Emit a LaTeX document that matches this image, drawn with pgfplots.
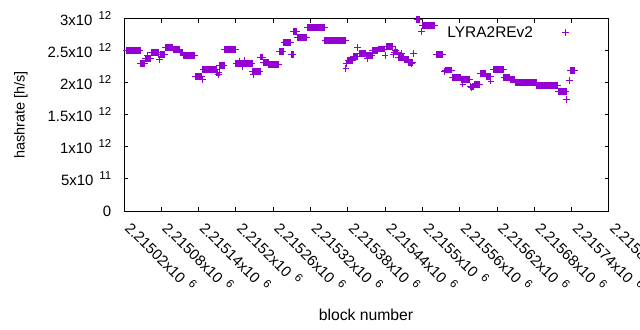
\documentclass[border=0pt]{standalone}
\usepackage{fontspec}
\setmainfont{Liberation Sans}
\usepackage{pgfplots}
\pgfplotsset{compat=1.18}
\definecolor{gpviolet}{HTML}{9400D3}
% tick label with gnuplot-style exponent
\newcommand{\tl}[2]{#1x10\hspace{6bp}\raisebox{6bp}{\fontsize{11.5}{12}\selectfont #2}}
\begin{document}
\begin{tikzpicture}
\path[use as bounding box] (0,0) rectangle (640bp,330bp);
\begin{axis}[
  at={(124bp,119bp)}, anchor=south west,
  scale only axis, width=485bp, height=192bp,
  xmin=20, xmax=800, ymin=0, ymax=3e12,
  scaled x ticks=false, scaled y ticks=false,
  xtick={20,80,...,800},
  xticklabels={\tl{2.21502}{6},\tl{2.21508}{6},\tl{2.21514}{6},\tl{2.2152}{6},\tl{2.21526}{6},\tl{2.21532}{6},\tl{2.21538}{6},\tl{2.21544}{6},\tl{2.2155}{6},\tl{2.21556}{6},\tl{2.21562}{6},\tl{2.21568}{6},\tl{2.21574}{6},\tl{2.2158}{6}},
  ytick={0,5e11,1e12,1.5e12,2e12,2.5e12,3e12},
  yticklabels={0,\tl{5}{11},\tl{1}{12},\tl{1.5}{12},\tl{2}{12},\tl{2.5}{12},\tl{3}{12}},
  tick align=inside,
  major tick length=4.3bp,
  axis line style={line width=1bp, black},
  every tick/.style={black, line width=1bp},
  tick label style={font=\fontsize{15}{17}\selectfont, inner sep=0pt},
  yticklabel shift=12.5bp,
  xticklabel style={rotate=-45, anchor=base west},
  xticklabel shift=18bp,
  xlabel={block number}, ylabel={hashrate [h/s]},
  every axis x label/.style={at={(axis description cs:0.499,-0.5417)}, anchor=center, font=\fontsize{15.8}{17}\selectfont},
  every axis y label/.style={at={(axis description cs:-0.2125,0.5)}, rotate=90, anchor=center, font=\fontsize{14.5}{16}\selectfont},
  legend plot pos=right,
  legend cell align=right,
  legend style={at={(axis description cs:0.918,0.9297)}, anchor=east, draw=none, fill=none, inner sep=0pt, font=\fontsize{15.5}{17}\selectfont},
]
% x = block number - 2215000
\addplot[only marks, mark=+, mark size=3.3bp, gpviolet, line width=1bp,
  legend image code/.code={\path (0bp,0bp) (33bp,0bp); \draw[##1] plot coordinates {(30bp,0bp)};}]
table {
x y
24 2.511e12
25 2.511e12
26 2.511e12
27 2.511e12
28 2.511e12
29 2.511e12
30 2.511e12
31 2.511e12
32 2.511e12
33 2.511e12
34 2.511e12
35 2.511e12
36 2.511e12
37 2.511e12
38 2.511e12
39 2.511e12
40 2.511e12
41 2.511e12
42 2.511e12
43 2.511e12
44 2.511e12
45 2.511e12
46 2.511e12
47 2.305e12
48 2.305e12
49 2.305e12
50 2.305e12
51 2.305e12
52 2.305e12
53 2.305e12
54 2.380e12
55 2.380e12
56 2.380e12
57 2.380e12
58 2.430e12
59 2.380e12
60 2.380e12
61 2.380e12
62 2.380e12
63 2.380e12
64 2.480e12
65 2.480e12
66 2.480e12
67 2.480e12
68 2.480e12
69 2.480e12
70 2.480e12
71 2.480e12
72 2.480e12
73 2.480e12
74 2.480e12
75 2.480e12
76 2.448e12
77 2.370e12
78 2.448e12
79 2.448e12
80 2.448e12
81 2.448e12
82 2.448e12
83 2.448e12
84 2.448e12
85 2.448e12
86 2.558e12
87 2.558e12
88 2.558e12
89 2.558e12
90 2.558e12
91 2.558e12
92 2.558e12
93 2.558e12
94 2.558e12
95 2.558e12
96 2.558e12
97 2.558e12
98 2.558e12
99 2.523e12
100 2.523e12
101 2.523e12
102 2.523e12
103 2.523e12
104 2.523e12
105 2.523e12
106 2.523e12
107 2.523e12
108 2.523e12
109 2.523e12
110 2.523e12
111 2.469e12
112 2.469e12
113 2.469e12
114 2.469e12
115 2.433e12
116 2.433e12
117 2.433e12
118 2.433e12
119 2.433e12
120 2.433e12
121 2.433e12
122 2.433e12
123 2.433e12
124 2.433e12
125 2.433e12
126 2.433e12
127 2.433e12
128 2.433e12
129 2.433e12
130 2.433e12
131 2.433e12
132 2.433e12
133 2.433e12
134 2.433e12
135 2.098e12
136 2.098e12
137 2.098e12
138 2.098e12
139 2.098e12
140 2.098e12
141 2.098e12
142 2.098e12
143 2.098e12
144 2.098e12
145 2.098e12
146 2.047e12
147 2.214e12
148 2.214e12
149 2.214e12
150 2.214e12
151 2.214e12
152 2.214e12
153 2.214e12
154 2.214e12
155 2.214e12
156 2.214e12
157 2.214e12
158 2.214e12
159 2.214e12
160 2.214e12
161 2.214e12
162 2.214e12
163 2.214e12
164 2.214e12
165 2.214e12
166 2.214e12
167 2.214e12
168 2.214e12
169 2.161e12
170 2.161e12
171 2.161e12
172 2.125e12
173 2.161e12
174 2.277e12
175 2.277e12
176 2.277e12
177 2.277e12
178 2.277e12
179 2.277e12
180 2.277e12
181 2.277e12
182 2.527e12
183 2.527e12
184 2.527e12
185 2.527e12
186 2.527e12
187 2.527e12
188 2.527e12
189 2.527e12
190 2.527e12
191 2.527e12
192 2.527e12
193 2.527e12
194 2.527e12
195 2.527e12
196 2.527e12
197 2.527e12
198 2.527e12
199 2.527e12
200 2.308e12
201 2.308e12
202 2.308e12
203 2.308e12
204 2.308e12
205 2.308e12
206 2.344e12
207 2.308e12
208 2.308e12
209 2.308e12
210 2.250e12
211 2.305e12
212 2.305e12
213 2.355e12
214 2.305e12
215 2.305e12
216 2.305e12
217 2.305e12
218 2.305e12
219 2.305e12
220 2.305e12
221 2.305e12
222 2.305e12
223 2.305e12
224 2.305e12
225 2.305e12
226 2.305e12
227 2.177e12
228 2.133e12
229 2.177e12
230 2.177e12
231 2.177e12
232 2.177e12
233 2.177e12
234 2.177e12
235 2.177e12
236 2.177e12
237 2.177e12
238 2.177e12
239 2.177e12
240 2.406e12
241 2.406e12
242 2.406e12
243 2.406e12
244 2.320e12
245 2.320e12
246 2.320e12
247 2.320e12
248 2.320e12
249 2.320e12
250 2.320e12
251 2.320e12
252 2.320e12
253 2.292e12
254 2.292e12
255 2.292e12
256 2.292e12
257 2.292e12
258 2.292e12
259 2.292e12
260 2.292e12
261 2.292e12
262 2.292e12
263 2.292e12
264 2.292e12
265 2.292e12
266 2.292e12
267 2.292e12
268 2.292e12
269 2.292e12
270 2.495e12
271 2.495e12
272 2.495e12
273 2.495e12
274 2.495e12
275 2.495e12
276 2.495e12
277 2.630e12
278 2.630e12
279 2.630e12
280 2.630e12
281 2.630e12
282 2.630e12
283 2.630e12
284 2.630e12
285 2.630e12
286 2.630e12
287 2.630e12
288 2.630e12
289 2.445e12
290 2.445e12
291 2.445e12
292 2.445e12
293 2.808e12
294 2.808e12
295 2.808e12
296 2.808e12
297 2.808e12
298 2.808e12
299 2.714e12
300 2.714e12
301 2.714e12
302 2.714e12
303 2.714e12
304 2.714e12
305 2.714e12
306 2.714e12
307 2.714e12
308 2.714e12
309 2.714e12
310 2.714e12
311 2.714e12
312 2.714e12
313 2.714e12
314 2.714e12
315 2.870e12
316 2.870e12
317 2.870e12
318 2.870e12
319 2.870e12
320 2.870e12
321 2.870e12
322 2.870e12
323 2.870e12
324 2.870e12
325 2.870e12
326 2.870e12
327 2.870e12
328 2.870e12
329 2.870e12
330 2.870e12
331 2.870e12
332 2.870e12
333 2.870e12
334 2.870e12
335 2.870e12
336 2.870e12
337 2.870e12
338 2.870e12
339 2.870e12
340 2.870e12
341 2.870e12
342 2.870e12
343 2.667e12
344 2.667e12
345 2.667e12
346 2.667e12
347 2.667e12
348 2.667e12
349 2.667e12
350 2.667e12
351 2.667e12
352 2.667e12
353 2.667e12
354 2.667e12
355 2.667e12
356 2.667e12
357 2.667e12
358 2.667e12
359 2.667e12
360 2.667e12
361 2.667e12
362 2.667e12
363 2.667e12
364 2.667e12
365 2.667e12
366 2.667e12
367 2.667e12
368 2.667e12
369 2.667e12
370 2.667e12
371 2.667e12
372 2.667e12
373 2.667e12
374 2.667e12
375 2.667e12
376 2.667e12
377 2.230e12
378 2.297e12
380 2.355e12
381 2.355e12
382 2.355e12
383 2.355e12
384 2.355e12
385 2.355e12
386 2.355e12
387 2.355e12
388 2.355e12
389 2.411e12
390 2.411e12
391 2.411e12
392 2.411e12
393 2.411e12
394 2.411e12
395 2.411e12
396 2.558e12
398 2.464e12
399 2.464e12
400 2.464e12
401 2.464e12
402 2.464e12
403 2.464e12
404 2.464e12
405 2.464e12
406 2.464e12
407 2.464e12
408 2.464e12
409 2.464e12
410 2.430e12
411 2.375e12
412 2.430e12
413 2.430e12
414 2.430e12
415 2.430e12
416 2.430e12
417 2.430e12
418 2.430e12
419 2.430e12
420 2.511e12
421 2.511e12
422 2.511e12
423 2.511e12
424 2.511e12
425 2.511e12
426 2.511e12
427 2.511e12
428 2.511e12
429 2.531e12
430 2.531e12
431 2.531e12
432 2.531e12
433 2.531e12
434 2.531e12
435 2.531e12
436 2.531e12
437 2.531e12
438 2.531e12
439 2.531e12
440 2.427e12
442 2.573e12
443 2.573e12
444 2.573e12
445 2.573e12
446 2.573e12
447 2.573e12
448 2.573e12
449 2.573e12
450 2.573e12
451 2.573e12
452 2.573e12
453 2.442e12
455 2.484e12
456 2.484e12
457 2.505e12
458 2.484e12
459 2.484e12
460 2.484e12
461 2.398e12
462 2.398e12
463 2.398e12
464 2.398e12
465 2.398e12
466 2.464e12
467 2.398e12
468 2.398e12
469 2.398e12
470 2.398e12
471 2.364e12
472 2.364e12
473 2.364e12
474 2.364e12
475 2.364e12
476 2.364e12
477 2.364e12
478 2.316e12
479 2.316e12
480 2.316e12
481 2.316e12
482 2.316e12
483 2.297e12
484 2.316e12
486 2.458e12
491 2.995e12
492 2.995e12
493 2.995e12
494 2.995e12
495 2.995e12
496 2.995e12
498 2.808e12
500 2.902e12
501 2.902e12
502 2.902e12
503 2.902e12
504 2.902e12
505 2.902e12
506 2.902e12
507 2.902e12
508 2.902e12
509 2.902e12
510 2.902e12
511 2.902e12
512 2.902e12
513 2.902e12
514 2.902e12
515 2.902e12
516 2.902e12
517 2.902e12
518 2.902e12
519 2.902e12
520 2.902e12
522 2.448e12
523 2.448e12
524 2.448e12
525 2.448e12
526 2.448e12
527 2.448e12
528 2.448e12
529 2.448e12
530 2.448e12
531 2.448e12
532 2.448e12
533 2.448e12
535 2.177e12
537 2.203e12
538 2.203e12
539 2.203e12
540 2.203e12
541 2.203e12
542 2.203e12
543 2.203e12
544 2.203e12
545 2.203e12
546 2.203e12
547 2.203e12
548 2.089e12
549 2.089e12
550 2.089e12
551 2.089e12
552 2.089e12
553 2.089e12
554 2.089e12
555 2.089e12
556 2.089e12
557 2.089e12
558 2.089e12
559 2.089e12
560 2.089e12
561 2.089e12
562 2.058e12
563 2.058e12
564 2.058e12
565 1.984e12
566 2.058e12
567 2.058e12
568 2.058e12
569 2.058e12
570 2.058e12
571 2.058e12
572 2.058e12
573 2.058e12
574 2.058e12
575 2.058e12
576 2.058e12
577 1.942e12
578 1.942e12
579 1.925e12
580 1.942e12
581 1.942e12
582 1.942e12
583 1.980e12
584 1.980e12
585 1.980e12
586 1.980e12
587 1.980e12
588 1.980e12
589 1.980e12
590 1.980e12
591 1.980e12
592 1.980e12
593 2.152e12
594 2.152e12
595 2.152e12
596 2.152e12
597 2.152e12
598 2.152e12
599 2.152e12
600 2.152e12
601 2.152e12
602 2.152e12
603 2.098e12
604 2.098e12
605 2.098e12
606 2.098e12
607 2.098e12
608 2.098e12
609 2.098e12
610 2.031e12
614 2.214e12
615 2.214e12
616 2.214e12
617 2.214e12
618 2.214e12
619 2.214e12
620 2.214e12
621 2.214e12
622 2.214e12
623 2.214e12
624 2.214e12
625 2.214e12
626 2.214e12
627 2.214e12
628 2.214e12
629 2.214e12
630 2.214e12
631 2.089e12
632 2.089e12
633 2.089e12
634 2.089e12
635 2.089e12
636 2.089e12
637 2.089e12
638 2.089e12
639 2.089e12
640 2.089e12
641 2.052e12
642 2.052e12
643 2.052e12
644 2.052e12
645 2.052e12
646 2.052e12
647 2.052e12
648 2.052e12
649 2.008e12
650 2.008e12
651 2.008e12
652 2.008e12
653 2.008e12
654 2.008e12
655 2.008e12
656 2.008e12
657 2.008e12
658 2.008e12
659 2.008e12
660 2.008e12
661 2.008e12
662 2.008e12
663 2.008e12
664 2.008e12
665 2.008e12
666 2.008e12
667 2.008e12
668 2.008e12
669 2.008e12
670 2.008e12
671 2.008e12
672 2.008e12
673 2.008e12
674 2.008e12
675 2.008e12
676 2.008e12
677 2.008e12
678 2.008e12
679 2.008e12
680 2.008e12
681 2.008e12
682 2.008e12
683 2.008e12
684 1.964e12
685 1.964e12
686 1.964e12
687 1.964e12
688 1.964e12
689 1.964e12
690 1.964e12
691 1.964e12
692 1.964e12
693 1.964e12
694 1.964e12
695 1.964e12
696 1.964e12
697 1.964e12
698 1.964e12
699 1.964e12
700 1.964e12
701 1.964e12
702 1.964e12
703 1.964e12
704 1.964e12
705 1.964e12
706 1.964e12
707 1.964e12
708 1.964e12
709 1.964e12
710 1.964e12
711 1.964e12
712 1.964e12
713 1.964e12
714 1.964e12
715 1.964e12
716 1.964e12
717 1.964e12
718 1.867e12
719 1.867e12
720 1.867e12
721 1.867e12
722 1.867e12
723 1.867e12
724 1.867e12
725 1.867e12
726 1.867e12
727 1.867e12
728 1.867e12
729 1.867e12
730 1.867e12
731 1.867e12
732 1.739e12
736 2.039e12
738 2.191e12
739 2.191e12
740 2.191e12
741 2.191e12
742 2.191e12
743 2.191e12
744 2.191e12
745 2.191e12
};
\addlegendentry{LYRA2REv2}
\end{axis}
\end{tikzpicture}
\end{document}
